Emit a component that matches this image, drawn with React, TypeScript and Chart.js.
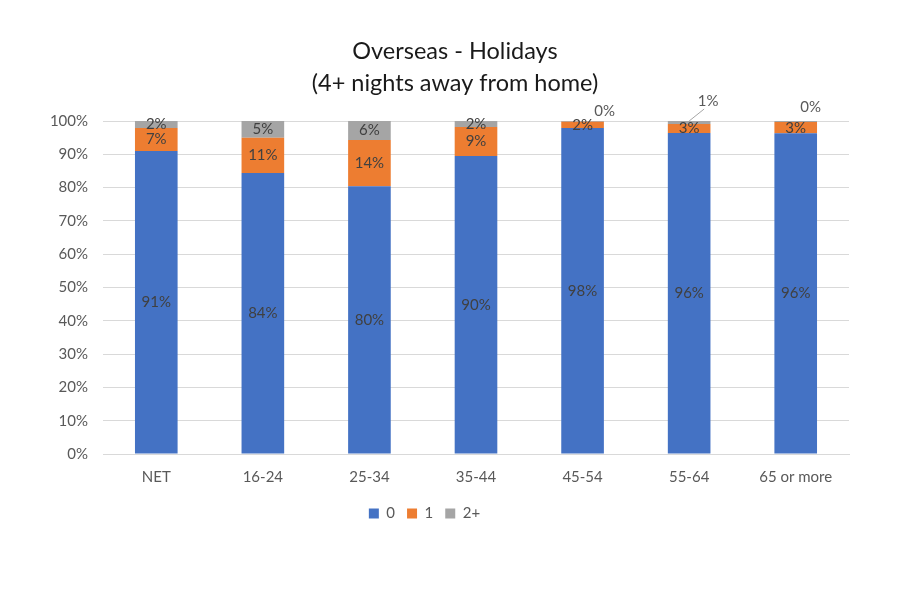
import React, { useEffect, useRef } from "react";
import { Chart, registerables } from "chart.js";

Chart.register(...registerables);

const categories = ["NET", "16-24", "25-34", "35-44", "45-54", "55-64", "65 or more"];
const zeroTrips = [91.0, 84.4, 80.4, 89.5, 97.9, 96.4, 96.3];
const oneTrip = [6.9, 10.6, 13.9, 8.7, 1.9, 2.7, 3.4];
const twoPlusTrips = [2.1, 5.0, 5.7, 1.8, 0.2, 0.9, 0.3];
const seriesNames = ["0", "1", "2+"];
const yTicks = [0, 10, 20, 30, 40, 50, 60, 70, 80, 90, 100];
const titleLines = ["Overseas - Holidays", "(4+ nights away from home)"];

// manual label offsets (styling) for tiny segments placed outside the bar
const outsideLabelOffsets: Record<number, [number, number]> = {
  4: [22, -10],
  5: [19, -20],
  6: [15, -14],
};

const FONT = "Lato, 'Open Sans', sans-serif";

const titlePlugin = {
  id: "customTitle",
  afterDraw(chart: any) {
    const ctx = chart.ctx;
    ctx.save();
    ctx.fillStyle = "#1a1a1a";
    ctx.font = `23.5px ${FONT}`;
    ctx.textAlign = "center";
    ctx.textBaseline = "middle";
    ctx.fillText(titleLines[0], 455, 51);
    ctx.fillText(titleLines[1], 455, 83);
    ctx.restore();
  },
};

const labelPlugin = {
  id: "segLabels",
  afterDatasetsDraw(chart: any) {
    const ctx = chart.ctx;
    ctx.save();
    ctx.font = `15px ${FONT}`;
    ctx.fillStyle = "#404040";
    ctx.textAlign = "center";
    ctx.textBaseline = "middle";
    chart.data.datasets.forEach((ds: any, di: number) => {
      const meta = chart.getDatasetMeta(di);
      meta.data.forEach((el: any, i: number) => {
        const v = ds.data[i];
        const txt = Math.round(v) + "%";
        if (di === 2 && outsideLabelOffsets[i]) {
          const [dx, dy] = outsideLabelOffsets[i];
          const lx = el.x + dx;
          const ly = el.y + dy;
          if (Math.round(v) >= 1) {
            ctx.strokeStyle = "#a6a6a6";
            ctx.lineWidth = 1;
            ctx.beginPath();
            ctx.moveTo(el.x, el.y);
            ctx.lineTo(lx - 4, ly + 8);
            ctx.stroke();
          }
          ctx.fillStyle = "#595959";
          ctx.fillText(txt, lx, ly);
          ctx.fillStyle = "#404040";
        } else {
          ctx.fillText(txt, el.x, (el.y + el.base) / 2);
        }
      });
    });
    ctx.restore();
  },
};

export default function App() {
  const ref = useRef<HTMLCanvasElement>(null);
  useEffect(() => {
    document.body.style.margin = "0";
    const chart = new Chart(ref.current!, {
      type: "bar",
      data: {
        labels: categories,
        datasets: [
          { label: seriesNames[0], data: zeroTrips, backgroundColor: "#4472C4" },
          { label: seriesNames[1], data: oneTrip, backgroundColor: "#ED7D31" },
          { label: seriesNames[2], data: twoPlusTrips, backgroundColor: "#A5A5A5" },
        ],
      },
      options: {
        animation: false,
        responsive: false,
        maintainAspectRatio: false,
        datasets: { bar: { categoryPercentage: 1, barPercentage: 0.4 } },
        layout: { padding: { top: 121, right: 51, left: 0, bottom: 78 } },
        scales: {
          x: {
            stacked: true,
            grid: { display: false, drawTicks: false },
            border: { display: true, color: "#d9d9d9" },
            ticks: { color: "#595959", font: { size: 15, family: FONT }, padding: 14 },
            afterFit(scale: any) {
              scale.height = 40;
            },
          },
          y: {
            stacked: true,
            min: 0,
            max: 100,
            afterBuildTicks(scale: any) {
              scale.ticks = yTicks.map((v) => ({ value: v }));
            },
            grid: { color: "#d9d9d9", drawTicks: false },
            border: { display: false },
            ticks: {
              color: "#595959",
              font: { size: 15, family: FONT },
              padding: 15,
              callback: (v: any) => v + "%",
            },
            afterFit(scale: any) {
              scale.width = 103;
            },
          },
        },
        plugins: {
          title: { display: false },
          tooltip: { enabled: false },
          legend: {
            position: "bottom",
            labels: {
              color: "#595959",
              font: { size: 15, family: FONT },
              boxWidth: 10,
              boxHeight: 10,
              padding: 12,
            },
          },
        },
      },
      plugins: [titlePlugin, labelPlugin],
    });
    return () => chart.destroy();
  }, []);
  return (
    <div style={{ width: 900, height: 609, background: "#fff" }}>
      <canvas ref={ref} width={900} height={609} style={{ display: "block" }} />
    </div>
  );
}
